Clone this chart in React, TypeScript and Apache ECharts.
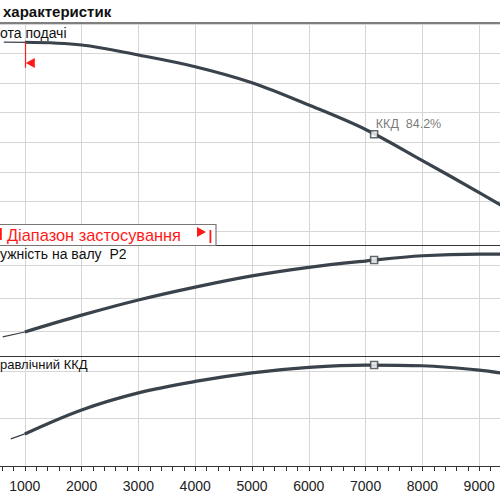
import React, { useEffect, useRef } from "react";
import * as echarts from "echarts";

// Flow values (x axis)
const flow = [1000, 2000, 3000, 4000, 5000, 6000, 7000, 8000, 9000, 9500];
// Head curve (thick part inside application range)
const head = [31.91, 31.45, 29.76, 27.78, 25.07, 21.3, 17.16, 11.9, 6.5, 3.7];
// Shaft power P2
const power = [2.97, 3.48, 3.94, 4.33, 4.67, 4.93, 5.12, 5.28, 5.33, 5.33];
// Hydraulic efficiency
const eff = [53.5, 63.6, 70.8, 75.6, 79.2, 81.5, 82.5, 82.2, 80.4, 78.7];

// Thin parts before the application range
const headThinFlow = [630, 1000];
const headThin = [31.95, 31.91];
const powerThinFlow = [612, 1000];
const powerThin = [2.82, 2.97];
const effThinFlow = [753, 1000];
const effThin = [51.4, 53.5];

// Duty point
const dutyFlow = 7150;
const dutyHead = 16.35;
const dutyPower = 5.15;
const dutyEff = 82.5;
const dutyLabel = "ККД  84.2%";

// Application range start marker
const rangeStartFlow = 1000;
const rangeMarkerTop = 31.91;
const rangeMarkerBottom = 27.6;
const rangeArrowFlow = 1097;
const rangeArrowHead = 28.4;

const CURVE = "#3a434b";
const GRID = "#d6d6d6";
const RED = "#ff1a1a";
const FONT = "Liberation Sans, Arial, sans-serif";
const OX = 32; // the chart canvas starts 32px left of the visible window

const zip = (xs: number[], ys: number[]) => xs.map((x, i) => [x, ys[i]]);

export default function App() {
  const ref = useRef<HTMLDivElement>(null);
  useEffect(() => {
    if (!ref.current) return;
    const chart = echarts.init(ref.current, undefined, { renderer: "svg" });
    const xBase = { type: "value" as const, min: 0, max: 10000, interval: 1000 };
    const hiddenX = (i: number) => ({ ...xBase, gridIndex: i, show: false });
    const yPanel = (i: number, min: number, max: number, interval: number) => ({
      type: "value" as const,
      gridIndex: i,
      min,
      max,
      interval,
      axisLine: { show: false },
      axisTick: { show: false },
      axisLabel: { show: false },
      splitLine: { show: true, lineStyle: { color: GRID, width: 1 } },
    });
    const line = (x: number, y: number, data: number[][], width: number, extra: any = {}) => ({
      type: "line",
      xAxisIndex: x,
      yAxisIndex: y,
      data,
      smooth: 0.35,
      symbol: "none",
      clip: false,
      lineStyle: { color: CURVE, width },
      z: 3,
      ...extra,
    });
    const duty = (i: number, v: number, label?: string) => ({
      type: "scatter",
      xAxisIndex: i,
      yAxisIndex: i,
      data: [[dutyFlow, v]],
      symbol: "rect",
      symbolSize: 7,
      clip: false,
      z: 5,
      itemStyle: { color: "#fff", borderColor: CURVE, borderWidth: 1.6 },
      label: label
        ? {
            show: true,
            formatter: label,
            position: [6, -6],
            align: "left",
            verticalAlign: "middle",
            fontSize: 12.5,
            color: "#555",
            fontFamily: FONT,
          }
        : { show: false },
    });

    chart.setOption({
      animation: false,
      backgroundColor: "#fff",
      grid: [
        { left: 0, right: 0, top: 23, bottom: 34 },
        { left: 0, right: 0, top: 24, height: 207 },
        { left: 0, right: 0, top: 265, height: 66 },
        { left: 0, right: 0, top: 371, height: 95 },
      ],
      xAxis: [
        {
          ...xBase,
          gridIndex: 0,
          axisLine: { show: true, lineStyle: { color: "#333", width: 1 } },
          axisTick: { show: true, length: 5, lineStyle: { color: "#333" } },
          minorTick: { show: true, splitNumber: 5, length: 5, lineStyle: { color: "#333" } },
          axisLabel: {
            show: true,
            fontSize: 14,
            color: "#222",
            margin: 13,
            fontFamily: FONT,
            showMinLabel: false,
            showMaxLabel: false,
            formatter: (v: number) => String(v),
          },
          splitLine: { show: true, lineStyle: { color: GRID, width: 1 } },
        },
        hiddenX(1),
        hiddenX(2),
        hiddenX(3),
      ],
      yAxis: [
        { type: "value", gridIndex: 0, min: 0, max: 1, show: false },
        yPanel(1, 0, 35, 5),
        yPanel(2, 3, 5, 1),
        yPanel(3, 40, 80, 20),
      ],
      series: [
        line(1, 1, zip(headThinFlow, headThin), 1.2),
        line(1, 1, zip(flow, head), 3.2, {
          markLine: {
            silent: true,
            symbol: ["none", "none"],
            label: { show: false },
            lineStyle: { color: RED, width: 1.2, type: "solid" },
            data: [[{ coord: [rangeStartFlow, rangeMarkerTop] }, { coord: [rangeStartFlow, rangeMarkerBottom] }]],
          },
          markPoint: {
            silent: true,
            symbol: "path://M0,5L10,0L10,10Z",
            symbolSize: [9, 10],
            itemStyle: { color: RED },
            label: { show: false },
            data: [{ coord: [rangeArrowFlow, rangeArrowHead] }],
          },
        }),
        line(2, 2, zip(powerThinFlow, powerThin), 1.2),
        line(2, 2, zip(flow, power), 3.2),
        line(3, 3, zip(effThinFlow, effThin), 1.2),
        line(3, 3, zip(flow, eff), 3.2),
        duty(1, dutyHead, dutyLabel),
        duty(2, dutyPower),
        duty(3, dutyEff),
      ],
      graphic: [
        { type: "line", shape: { x1: OX, y1: 23, x2: OX + 500, y2: 23 }, style: { stroke: "#555", lineWidth: 1.6 }, z: 10 },
        { type: "line", shape: { x1: OX, y1: 245.5, x2: OX + 500, y2: 245.5 }, style: { stroke: "#333", lineWidth: 1 }, z: 10 },
        { type: "line", shape: { x1: OX, y1: 356.5, x2: OX + 500, y2: 356.5 }, style: { stroke: "#333", lineWidth: 1 }, z: 10 },
        {
          type: "text",
          x: OX + 3,
          y: 11,
          style: { text: "характеристик", font: "bold 15px " + FONT, fill: "#111", verticalAlign: "middle" },
          z: 10,
        },
        {
          type: "text",
          x: OX,
          y: 33,
          style: { text: "ота подачі", font: "14px " + FONT, fill: "#111", verticalAlign: "middle" },
          z: 10,
        },
        {
          type: "text",
          x: OX,
          y: 254,
          style: { text: "ужність на валу  P2", font: "14px " + FONT, fill: "#111", verticalAlign: "middle" },
          z: 10,
        },
        {
          type: "text",
          x: OX,
          y: 364,
          style: { text: "равлічний ККД", font: "13px " + FONT, fill: "#111", verticalAlign: "middle" },
          z: 10,
        },
        {
          type: "rect",
          shape: { x: OX - 5, y: 224.5, width: 221, height: 21 },
          style: { fill: "#fff", stroke: "#777", lineWidth: 1.2 },
          z: 11,
        },
        { type: "rect", shape: { x: OX, y: 228, width: 1.8, height: 12 }, style: { fill: RED }, z: 12 },
        {
          type: "text",
          x: OX + 7,
          y: 234.5,
          style: { text: "Діапазон застосування", font: "16.4px " + FONT, fill: RED, verticalAlign: "middle" },
          z: 12,
        },
        {
          type: "polygon",
          shape: { points: [[OX + 197, 227], [OX + 197, 237], [OX + 206, 232]] },
          style: { fill: RED },
          z: 12,
        },
        { type: "rect", shape: { x: OX + 209.5, y: 230, width: 1.8, height: 13 }, style: { fill: RED }, z: 12 },
      ],
    });
    return () => chart.dispose();
  }, []);
  return (
    <div style={{ position: "absolute", left: 0, top: 0, width: 500, height: 500, overflow: "hidden" }}>
      <div ref={ref} style={{ position: "absolute", left: -OX, top: 0, width: 568, height: 500 }} />
    </div>
  );
}
